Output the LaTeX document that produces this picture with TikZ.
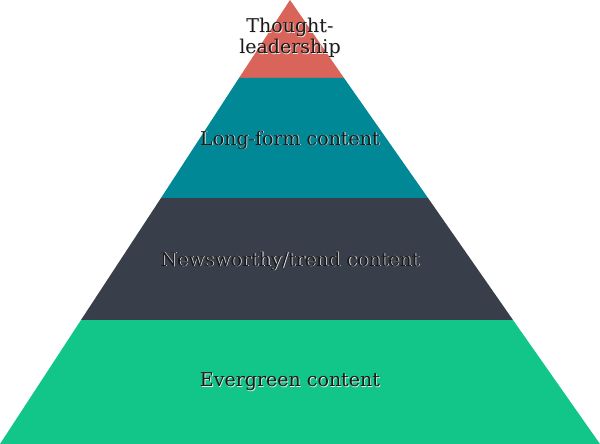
\documentclass[tikz,border=0pt]{standalone}
\usepackage{fontspec}
\setmainfont{DejaVu Serif}
\definecolor{cred}{HTML}{D9655A}
\definecolor{cteal}{HTML}{008896}
\definecolor{cdark}{HTML}{383F4A}
\definecolor{cgreen}{HTML}{12C68A}
\definecolor{ctext}{HTML}{1A1A1A}
\begin{document}
\begin{tikzpicture}[x=1pt,y=-1pt,
  lbl/.style={font=\fontsize{19}{21}\selectfont, text=ctext, align=center},
  halo/.style={lbl, text=white!85!gray}]
\useasboundingbox (0,0) rectangle (600,444);
\fill[white] (0,0) rectangle (600,444);
\fill[cred] (290,0) -- (344,78) -- (239,78) -- cycle;
\fill[cteal] (239,78) -- (344,78) -- (428,198) -- (161,198) -- cycle;
\fill[cdark] (161,198) -- (428,198) -- (513,320) -- (81,320) -- cycle;
\fill[cgreen] (81,320) -- (513,320) -- (600,444) -- (0,444) -- cycle;
\foreach \p/\t in {{(290.8,38.8)}/{Thought-\\leadership},{(290.8,140.8)}/{Long-form content},{(290.8,261.8)}/{Newsworthy/trend content},{(290.8,382.8)}/{Evergreen content}}
  \node[halo] at \p {\t};
\node[lbl] (t) at (290,38) {Thought-\\leadership};
\node[lbl] (l) at (290,140) {Long-form content};
\node[lbl] (n) at (290,261) {Newsworthy/trend content};
\node[lbl] (e) at (290,382) {Evergreen content};
\end{tikzpicture}
\end{document}
